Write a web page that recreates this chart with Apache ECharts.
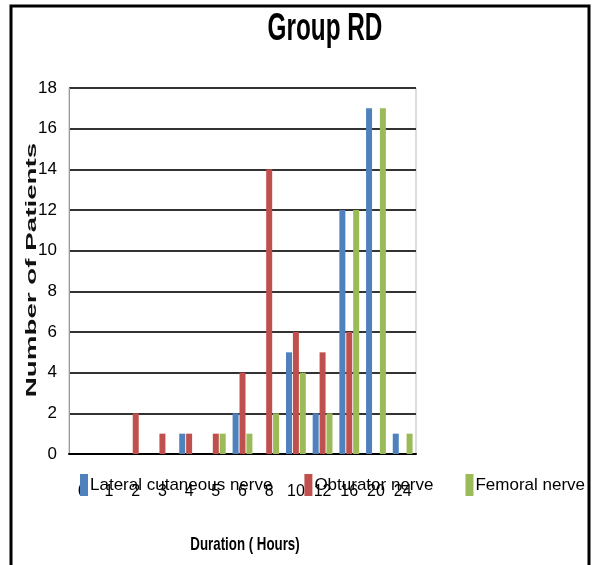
<!DOCTYPE html>
<html><head><meta charset="utf-8">
<script src="https://cdn.jsdelivr.net/npm/echarts@6/dist/echarts.min.js"></script>
<style>html,body{margin:0;padding:0;background:#fff}#c{width:592px;height:565px}</style>
</head><body><div id="c"></div>
<script>
var categories = ['0','1','2','3','4','5','6','8','10','12','16','20','24'];
var lateral = [0,0,0,0,1,0,2,0,5,2,12,17,1];
var obturator = [0,0,2,1,1,1,4,14,6,5,6,0,0];
var femoral = [0,0,0,0,0,1,1,2,4,2,12,17,1];
var seriesNames = ['Lateral cutaneous nerve','Obturator nerve','Femoral nerve'];
var yTicks = {min:0, max:18, interval:2};
var F = '"Liberation Sans", sans-serif';

var chart = echarts.init(document.getElementById('c'));
chart.setOption({
  animation:false,
  backgroundColor:'#fff',
  graphic:[
    {type:'rect', shape:{x:11,y:6,width:578,height:600}, style:{fill:null, stroke:'#000', lineWidth:3}, z:0},
    {type:'text', x:325, y:30, scaleX:0.64, style:{text:'Group RD', font:'bold 38px "Liberation Sans", sans-serif', fill:'#000', align:'center', verticalAlign:'middle'}},
    {type:'text', x:32, y:270, rotation:Math.PI/2, scaleX:1.85, style:{text:'Number of Patients', font:'bold 15px "Liberation Sans", sans-serif', fill:'#111', align:'center', verticalAlign:'middle'}},
    {type:'text', x:245, y:545, scaleX:0.7, style:{text:'Duration ( Hours)', font:'bold 19px "Liberation Sans", sans-serif', fill:'#000', align:'center', verticalAlign:'middle'}}
  ],
  grid:{left:69, right:176, top:88, bottom:111, show:true, borderColor:'#bbb', borderWidth:1},
  legend:{
    left:75, top:469, width:517, itemWidth:8, itemHeight:22, itemGap:32,
    icon:'rect',
    textStyle:{fontFamily:F, fontSize:17, color:'#000', padding:[0,0,0,-3]},
    data:seriesNames
  },
  xAxis:{
    type:'category', data:categories,
    axisLine:{lineStyle:{color:'#000', width:2}},
    axisTick:{show:false},
    axisLabel:{interval:0, color:'#000', fontFamily:F, fontSize:16, margin:30}
  },
  yAxis:{
    type:'value', min:yTicks.min, max:yTicks.max, interval:yTicks.interval,
    axisLine:{show:true, lineStyle:{color:'#999', width:1}},
    axisTick:{show:false},
    axisLabel:{color:'#000', fontFamily:F, fontSize:17, margin:12},
    splitLine:{lineStyle:{color:'#333', width:2}}
  },
  series:[
    {name:seriesNames[0], type:'bar', data:lateral, barWidth:6, barGap:'15%', itemStyle:{color:'#4F81BD'}},
    {name:seriesNames[1], type:'bar', data:obturator, barWidth:6, barGap:'15%', itemStyle:{color:'#C0504D'}},
    {name:seriesNames[2], type:'bar', data:femoral, barWidth:6, barGap:'15%', itemStyle:{color:'#9BBB59'}}
  ]
});
</script></body></html>
